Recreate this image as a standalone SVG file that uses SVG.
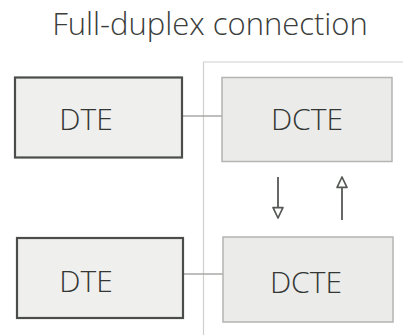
<svg xmlns="http://www.w3.org/2000/svg" width="403" height="335" viewBox="0 0 403 335">
  <style>
    .title { font-family: "Open Sans", "DejaVu Sans", sans-serif; font-weight: 300; font-size: 31px; fill: #3a3d3a; }
    .label { font-family: "Open Sans", "DejaVu Sans", sans-serif; font-weight: 300; font-size: 30px; fill: #333633; text-anchor: middle; }
    .dte { fill: #efefed; stroke: #4a4d4a; stroke-width: 2.2; }
    .dcte { fill: #ebebea; stroke: #b4b5b2; stroke-width: 1.5; }
    .wire { stroke: #a9aaa7; stroke-width: 1.6; fill: none; }
    .frame { stroke: #cfd0cd; stroke-width: 1.2; fill: none; }
    .flow { stroke: #555855; stroke-width: 1.8; fill: none; }
  </style>
  <defs>
    <marker id="tri" viewBox="0 0 10 10" refX="9" refY="5" markerWidth="13" markerHeight="13" markerUnits="userSpaceOnUse" orient="auto">
      <path d="M1,1.2 L9,5 L1,8.8 Z" fill="#ffffff" stroke="#555855" stroke-width="1.3" stroke-linejoin="round"/>
    </marker>
  </defs>
  <rect width="403" height="335" fill="#ffffff"/>

  <text class="title" x="210" y="35" text-anchor="middle">Full-duplex connection</text>

  <!-- network side frame -->
  <g id="frame">
    <path class="frame" d="M403,62 H203.5 V335"/>
  </g>

  <!-- links and data flow -->
  <g id="connectors">
    <line class="wire" x1="182" y1="116" x2="222" y2="116"/>
    <line class="wire" x1="183" y1="274" x2="223" y2="274"/>
    <line class="flow" x1="278" y1="177" x2="278" y2="218" marker-end="url(#tri)"/>
    <line class="flow" x1="342" y1="220" x2="342" y2="177" marker-end="url(#tri)"/>
  </g>

  <g id="dte-top">
    <rect class="dte" x="15" y="77.5" width="167" height="80"/>
    <text class="label" x="86" y="130">DTE</text>
  </g>
  <g id="dcte-top">
    <rect class="dcte" x="222" y="77.5" width="170" height="84"/>
    <text class="label" x="307" y="130">DCTE</text>
  </g>
  <g id="dte-bottom">
    <rect class="dte" x="17" y="238" width="166" height="80"/>
    <text class="label" x="86" y="292">DTE</text>
  </g>
  <g id="dcte-bottom">
    <rect class="dcte" x="223" y="237" width="170" height="85"/>
    <text class="label" x="306" y="293">DCTE</text>
  </g>
</svg>
